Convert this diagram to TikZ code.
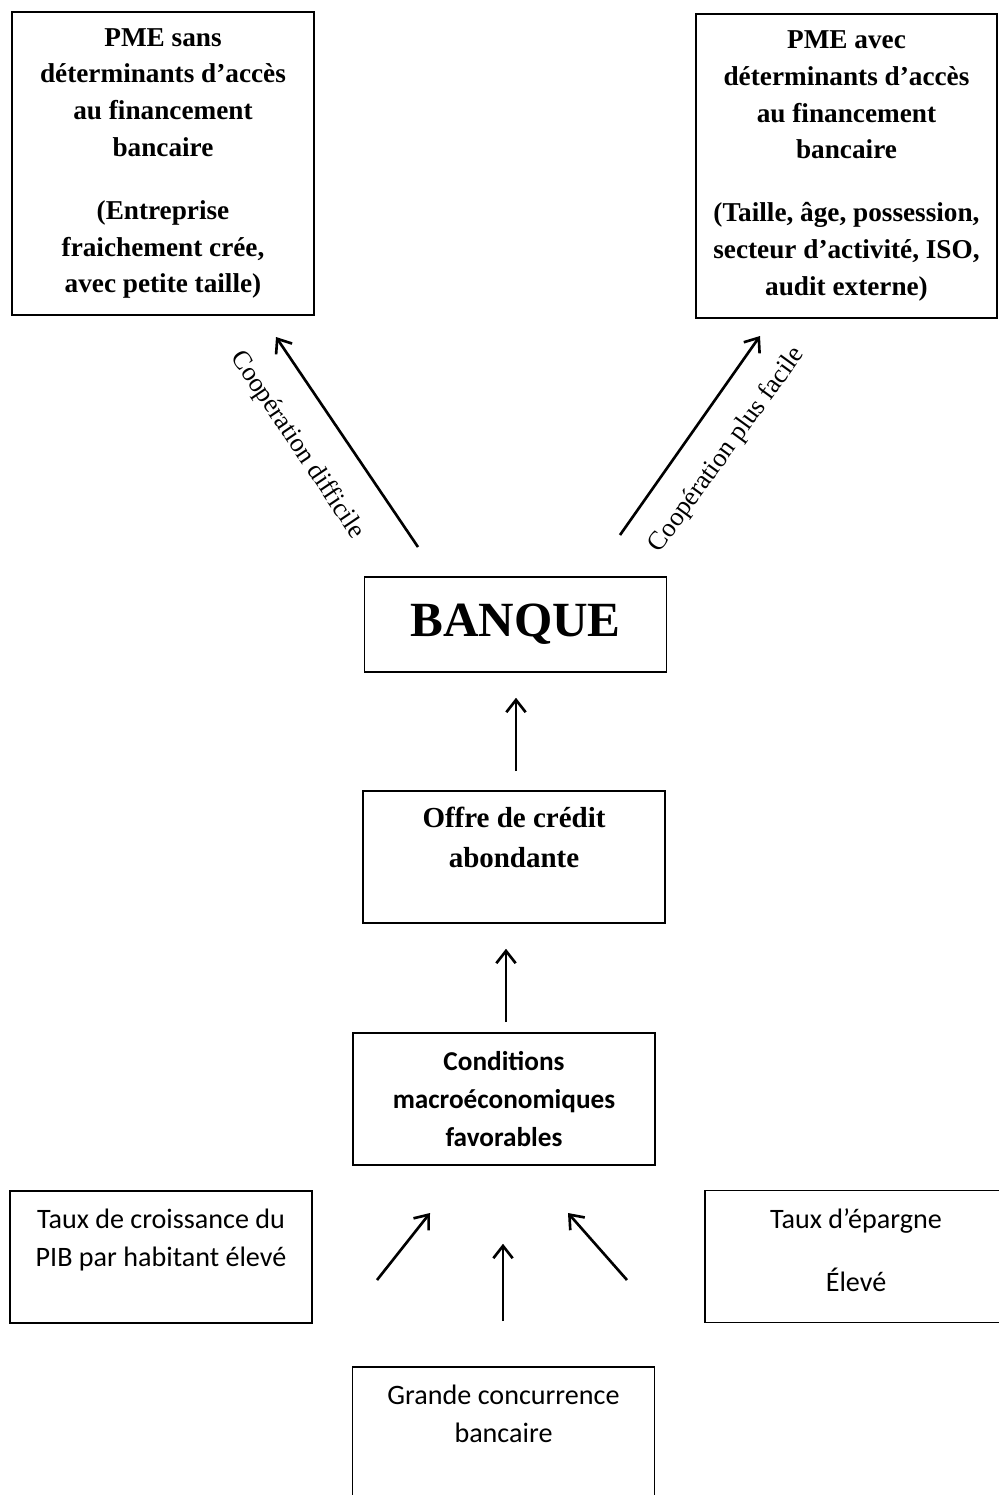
\documentclass[tikz,border=0pt]{standalone}
\usepackage{fontspec}
\setmainfont{Liberation Serif}
\newfontfamily\calibri{Carlito}
\usetikzlibrary{arrows.meta}

\tikzset{
  box/.style={draw, line width=0.9pt, minimum width=6.04cm, minimum height=2.64cm, align=center, inner sep=0pt},
  serifbox/.style={box, font=\bfseries\fontsize{15.5}{20.9}\selectfont},
  sansbox/.style={box, font=\calibri\fontsize{16}{22}\selectfont},
  arr/.style={-{Straight Barb[length=7pt,width=11pt]}, line width=1.5pt},
  slant/.style={font=\fontsize{15}{18}\selectfont}
}

\begin{document}
\begin{tikzpicture}[x=0.02cm, y=-0.02cm]
  \useasboundingbox (0,0) rectangle (998,1495);

  % PME boxes
  \node[serifbox, minimum height=6.06cm] (pmesans) at (163,163.5) {PME sans\\déterminants d’accès\\au financement\\bancaire\\[15pt](Entreprise\\fraichement crée,\\avec petite taille)};
  \node[serifbox, minimum width=6.02cm, minimum height=6.08cm] (pmeavec) at (846.5,166) {PME avec\\déterminants d’accès\\au financement\\bancaire\\[15pt](Taille, âge, possession,\\secteur d’activité, ISO,\\audit externe)};

  % Bank and credit supply
  \node[box, minimum height=1.9cm, font=\bfseries\fontsize{28}{30}\selectfont] (banque) at (515.5,624.5) {BANQUE};
  \node[box, font=\bfseries\fontsize{16.5}{22.7}\selectfont] (offre) at (514,857) {Offre de crédit\\abondante\\\mbox{}};
  \node[box, font=\calibri\bfseries\fontsize{15.5}{21.8}\selectfont] (cond) at (504,1099) {Conditions\\macroéconomiques\\favorables};

  % Macro factors
  \node[sansbox] (pib) at (161,1257) {Taux de croissance du\\PIB par habitant élevé\\\mbox{}};
  \node[sansbox] (epargne) at (856,1256.5) {Taux d’épargne\\[14pt]Élevé\\[-15pt]\mbox{}};
  \node[sansbox] (grande) at (503.5,1433) {Grande concurrence\\bancaire\\\mbox{}};

  % Arrow ends
  \coordinate (difftail) at (418,547);
  \coordinate (difftip) at (276,337);
  \coordinate (factail) at (620,535);
  \coordinate (factip) at (760,336);
  \coordinate (pibtail) at (377,1280);
  \coordinate (pibtip) at (430,1213);
  \coordinate (eptail) at (627,1280);
  \coordinate (eptip) at (568,1213);

  % Arrows
  \draw[arr] (difftail) -- (difftip);
  \draw[arr] (factail) -- (factip);
  \draw[arr, shorten <=0.38cm, shorten >=0.5cm] (offre.north -| 516,0) -- (banque.south -| 516,0);
  \draw[arr, shorten <=0.2cm, shorten >=0.5cm] (cond.north -| 506,0) -- (offre.south -| 506,0);
  \draw[arr, shorten <=0.9cm, shorten >=1.56cm] (grande.north -| 503,0) -- (cond.south -| 503,0);
  \draw[arr] (pibtail) -- (pibtip);
  \draw[arr] (eptail) -- (eptip);

  % Arrow labels
  \node[slant, rotate=-56] (lbdiff) at (297,445) {Coopération difficile};
  \node[slant, rotate=54] (lbfac) at (727,450) {Coopération plus facile};
\end{tikzpicture}
\end{document}
